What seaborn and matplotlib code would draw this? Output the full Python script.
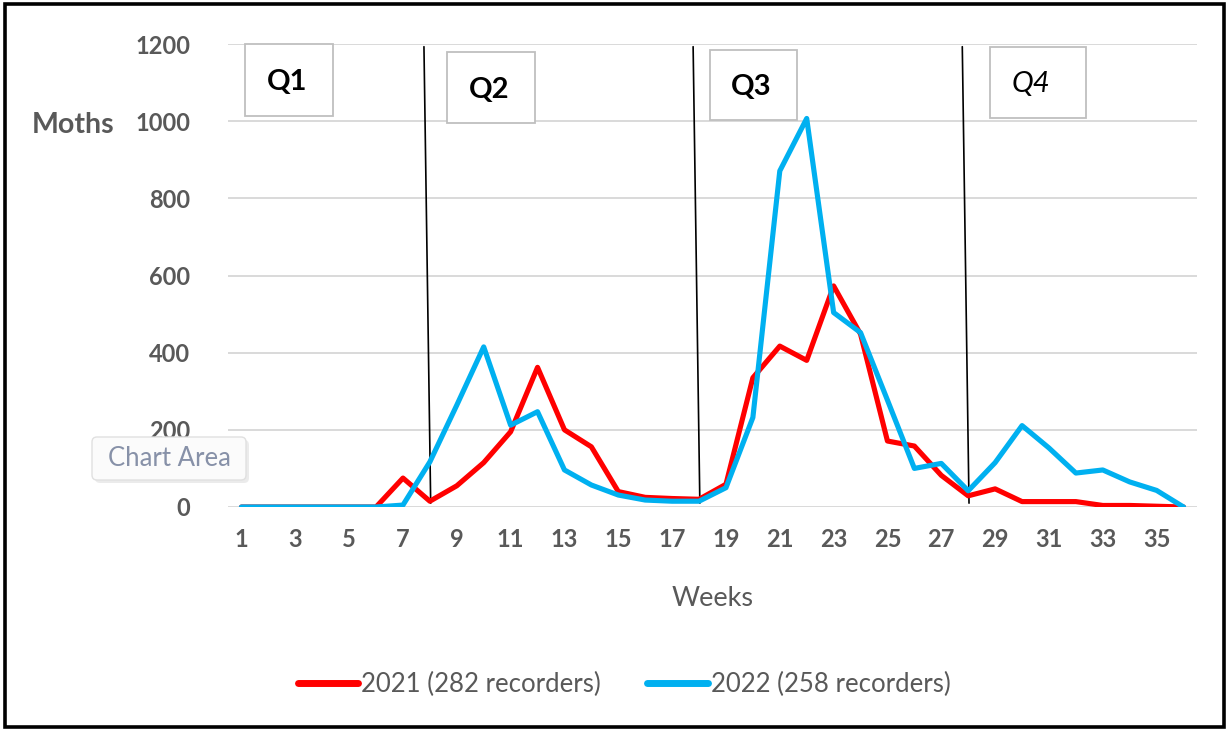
import numpy as np
import pandas as pd
import matplotlib
matplotlib.use("Agg")
import matplotlib.pyplot as plt
from matplotlib.patches import Rectangle, FancyBboxPatch
import seaborn as sns

# Weekly moth counts
weeks = list(range(1, 37))
moths_2021 = [0, 0, 0, 0, 0, 0, 75, 15, 55, 115, 195, 362, 200, 156, 40, 25, 22, 20,
              59, 335, 417, 380, 573, 448, 171, 158, 82, 29, 47, 14, 14, 14, 4, 4, 2, 0]
moths_2022 = [0, 0, 0, 0, 0, 0, 5, 117, 264, 415, 212, 247, 96, 57, 31, 18, 15, 15,
              50, 232, 871, 1007, 504, 452, 277, 100, 113, 42, 115, 211, 153, 88, 96, 65, 43, 0]
series_labels = ["2021 (282 recorders)", "2022 (258 recorders)"]
series_colors = ["#ff0000", "#00b0f0"]
y_ticks = [0, 200, 400, 600, 800, 1000, 1200]
x_ticks = list(range(1, 36, 2))
quarter_labels = ["Q1", "Q2", "Q3", "Q4"]
quarter_breaks = [8, 18, 28]

df = pd.DataFrame({
    "Weeks": weeks * 2,
    "Moths": moths_2021 + moths_2022,
    "Series": [series_labels[0]] * len(weeks) + [series_labels[1]] * len(weeks),
})

sns.set_theme(style="white")
plt.rcParams["font.family"] = ["Lato", "DejaVu Sans"]

W, H = 1229, 731
fig = plt.figure(figsize=(W / 100, H / 100), dpi=100)
ax = fig.add_axes([228 / W, 1 - 507 / H, (1197 - 228) / W, (507 - 44) / H])

sns.lineplot(data=df, x="Weeks", y="Moths", hue="Series",
             palette=dict(zip(series_labels, series_colors)),
             linewidth=3.7, ax=ax, legend=False, zorder=3)

ax.set_xlim(0.5, 36.5)
ax.set_ylim(0, 1200)
ax.set_yticks(y_ticks)
ax.set_xticks(x_ticks)
ax.yaxis.grid(True, color="#d9d9d9", linewidth=1.4, zorder=0)
ax.xaxis.grid(False)
for s in ax.spines.values():
    s.set_visible(False)
ax.tick_params(axis="both", length=0, labelsize=17, labelcolor="#595959")
ax.tick_params(axis="y", pad=27)
ax.tick_params(axis="x", pad=15)
for lab in ax.get_xticklabels() + ax.get_yticklabels():
    lab.set_fontweight("bold")
ax.set_xlabel("Weeks", fontsize=19.5, color="#595959", labelpad=25)
ax.set_ylabel("")

# Quarter divider lines
for b in quarter_breaks:
    ax.plot([b - 0.22, b + 0.03], [1193, 10], color="black", linewidth=1.2, zorder=2)

# Legend
handles = [plt.Line2D([], [], color=c, linewidth=5) for c in series_colors]
fig.legend(handles, series_labels, loc="center", bbox_to_anchor=(624 / W, 1 - 684 / H),
           ncol=2, frameon=False, fontsize=18.5, handlelength=2.35, handletextpad=0.12,
           columnspacing=1.8, labelcolor="#595959")

# Overlay in pixel coordinates for annotations
ov = fig.add_axes([0, 0, 1, 1], zorder=10)
ov.set_xlim(0, W)
ov.set_ylim(H, 0)
ov.axis("off")
ov.patch.set_alpha(0)

ov.text(73, 125, "Moths", fontsize=20.5, fontweight="bold", color="#595959",
        ha="center", va="center")

boxes = [(245, 44, 88, 72), (447, 52, 88, 71), (710, 50, 87, 70), (990, 47, 96, 71)]
for (x0, y0, w, h), q in zip(boxes, quarter_labels):
    ov.add_patch(Rectangle((x0, y0), w, h, facecolor="white", edgecolor="#bfbfbf", linewidth=1.3))
    italic = q == "Q4"
    ov.text(x0 + w / 2 - (7 if italic else 2), y0 + h / 2 + 2, q, fontsize=21,
            fontweight="normal" if italic else "bold",
            fontstyle="italic" if italic else "normal",
            color="black", ha="center", va="center")

# Tooltip
ov.add_patch(FancyBboxPatch((95, 440), 154, 43, boxstyle="round,pad=0,rounding_size=5",
                            facecolor="#d8d8d8", edgecolor="none", alpha=0.5))
ov.add_patch(FancyBboxPatch((92, 437), 154, 43, boxstyle="round,pad=0,rounding_size=5",
                            facecolor="#fbfbfb", edgecolor="#e0e0e0", linewidth=1.0))
ov.text(169, 458, "Chart Area", fontsize=18.5, color="#8791a8", ha="center", va="center")

# Outer frame
ov.add_patch(Rectangle((5, 4), W - 10, H - 8, facecolor="none", edgecolor="black", linewidth=2.6))

fig.savefig("out.png", dpi=100, facecolor="white")
